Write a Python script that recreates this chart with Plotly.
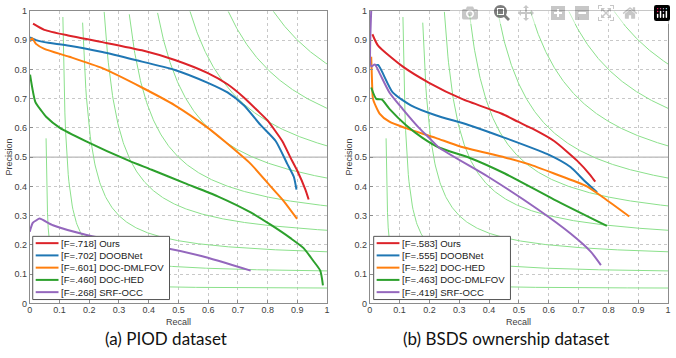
import numpy as np
import plotly.graph_objects as go

# PIOD dataset (left panel)
piod_names = ["[F=.718] Ours", "[F=.702] DOOBNet", "[F=.601] DOC-DMLFOV",
              "[F=.460] DOC-HED", "[F=.268] SRF-OCC"]
piod_recall = [
    [0.011, 0.049, 0.133, 0.244, 0.377, 0.488, 0.599, 0.665, 0.72, 0.765, 0.798, 0.849, 0.876, 0.899, 0.927, 0.938],
    [0.001, 0.021, 0.049, 0.133, 0.244, 0.355, 0.488, 0.599, 0.665, 0.72, 0.776, 0.827, 0.866, 0.888, 0.897],
    [0.001, 0.008, 0.021, 0.049, 0.133, 0.244, 0.377, 0.488, 0.599, 0.654, 0.743, 0.81, 0.854, 0.899],
    [0.001, 0.019, 0.038, 0.055, 0.1, 0.188, 0.333, 0.41, 0.521, 0.632, 0.743, 0.81, 0.877, 0.921, 0.954, 0.977, 0.986],
    [0.0, 0.01, 0.022, 0.033, 0.078, 0.188, 0.3, 0.443, 0.577, 0.743],
]
piod_precision = [
    [0.956, 0.935, 0.915, 0.893, 0.865, 0.832, 0.787, 0.749, 0.704, 0.66, 0.627, 0.555, 0.5, 0.455, 0.389, 0.355],
    [0.909, 0.9, 0.893, 0.881, 0.859, 0.832, 0.798, 0.754, 0.721, 0.677, 0.61, 0.555, 0.477, 0.433, 0.389],
    [0.895, 0.906, 0.887, 0.87, 0.843, 0.804, 0.738, 0.677, 0.6, 0.555, 0.477, 0.4, 0.35, 0.289],
    [0.782, 0.688, 0.66, 0.638, 0.601, 0.555, 0.488, 0.457, 0.411, 0.366, 0.311, 0.269, 0.223, 0.189, 0.145, 0.112, 0.062],
    [0.245, 0.275, 0.284, 0.29, 0.267, 0.235, 0.213, 0.192, 0.162, 0.112],
]

# BSDS ownership dataset (right panel)
bsds_names = ["[F=.583] Ours", "[F=.555] DOOBNet", "[F=.522] DOC-HED",
              "[F=.463] DOC-DMLFOV", "[F=.419] SRF-OCC"]
bsds_recall = [
    [0.009, 0.028, 0.11, 0.199, 0.309, 0.441, 0.497, 0.544, 0.618, 0.695, 0.74, 0.756],
    [0.017, 0.028, 0.077, 0.138, 0.221, 0.331, 0.453, 0.596, 0.673, 0.717, 0.762],
    [0.005, 0.008, 0.011, 0.033, 0.066, 0.121, 0.221, 0.301, 0.453, 0.533, 0.618, 0.728, 0.784, 0.87],
    [0.005, 0.022, 0.04, 0.066, 0.121, 0.177, 0.232, 0.334, 0.453, 0.618, 0.795],
    [0.005, 0.005, 0.017, 0.033, 0.066, 0.11, 0.166, 0.199, 0.232, 0.397, 0.563, 0.673, 0.74, 0.775],
]
bsds_precision = [
    [0.92, 0.881, 0.81, 0.754, 0.699, 0.649, 0.621, 0.598, 0.555, 0.488, 0.438, 0.416],
    [0.813, 0.815, 0.721, 0.677, 0.643, 0.61, 0.566, 0.51, 0.466, 0.422, 0.38],
    [0.843, 0.75, 0.699, 0.649, 0.621, 0.599, 0.566, 0.537, 0.499, 0.476, 0.444, 0.4, 0.361, 0.297],
    [0.738, 0.699, 0.697, 0.665, 0.61, 0.566, 0.533, 0.498, 0.444, 0.355, 0.265],
    [1.0, 0.81, 0.817, 0.787, 0.721, 0.665, 0.599, 0.566, 0.533, 0.433, 0.322, 0.239, 0.178, 0.131],
]

colors = ["#dc2329", "#1f77b4", "#ff7f0e", "#2ca02c", "#9467bd"]
iso_f = [0.1, 0.2, 0.3, 0.4, 0.5, 0.6, 0.7, 0.8, 0.9]
ticks = [0, 0.1, 0.2, 0.3, 0.4, 0.5, 0.6, 0.7, 0.8, 0.9, 1]
tick_text = ["0", "0.1", "0.2", "0.3", "0.4", "0.5", "0.6", "0.7", "0.8", "0.9", "1"]

W, H = 676, 358
fig = go.Figure()

panels = [
    ("x", "y", piod_names, piod_recall, piod_precision, 27, 327, 30, 164, "(a) PIOD dataset"),
    ("x2", "y2", bsds_names, bsds_recall, bsds_precision, 370, 671, 374, 508, "(b) BSDS ownership dataset"),
]

for xa, ya, names, rec, prec, x0, x1, lx, tx, title in panels:
    # iso-F contours
    for f in iso_f:
        r = np.linspace(f / 2 + 1e-4, 1, 400)
        p = f * r / (2 * r - f)
        keep = p <= 1.0
        fig.add_trace(go.Scatter(x=r[keep], y=p[keep], xaxis=xa, yaxis=ya, mode="lines",
                                 line=dict(color="#8be08b", width=1), showlegend=False,
                                 hoverinfo="skip"))
    for name, r, p, c in zip(names, rec, prec, colors):
        fig.add_trace(go.Scatter(x=r, y=p, xaxis=xa, yaxis=ya, mode="lines", name=name,
                                 line=dict(color=c, width=2, shape="spline", smoothing=0.6),
                                 showlegend=False))

    # legend box drawn by hand so it stays compact
    fig.add_shape(type="rect", xref="paper", yref="paper",
                  x0=lx / W, x1=(lx + 138) / W, y0=1 - 303 / H, y1=1 - 238 / H,
                  fillcolor="white", line=dict(color="#555", width=1), layer="above")
    for i, (name, c) in enumerate(zip(names, colors)):
        yc = 1 - (245 + 12.6 * i) / H
        fig.add_shape(type="line", xref="paper", yref="paper",
                      x0=(lx + 3) / W, x1=(lx + 26) / W, y0=yc, y1=yc,
                      line=dict(color=c, width=2), layer="above")
        fig.add_annotation(x=(lx + 27) / W, y=yc, xref="paper", yref="paper", text=name,
                           xanchor="left", yanchor="middle", showarrow=False,
                           font=dict(family="Liberation Sans", size=9.6, color="#222"))

    fig.add_annotation(x=tx / W, y=1 - 343 / H, xref="paper", yref="paper",
                       text=title, xanchor="center", yanchor="middle", showarrow=False,
                       font=dict(family="Lato", size=17, color="#111"))
    fig.add_annotation(x=(x0 + x1) / 2 / W, y=1 - 326 / H, xref="paper", yref="paper",
                       text="Recall", xanchor="center", yanchor="middle", showarrow=False,
                       font=dict(family="Liberation Sans", size=9, color="#404040"))
    fig.add_annotation(x=(x0 - 21) / W, y=1 - 156 / H, xref="paper", yref="paper",
                       text="Precision", textangle=-90, xanchor="center", yanchor="middle",
                       showarrow=False, font=dict(family="Liberation Sans", size=9, color="#404040"))

axis_common = dict(range=[0, 1], tickvals=ticks, ticktext=tick_text, showgrid=True,
                   gridcolor="#c8c8c8", griddash="dot", gridwidth=1, zeroline=False,
                   showline=True, linecolor="#8c8c8c", linewidth=1, mirror=True,
                   ticks="inside", ticklen=3, tickcolor="#8c8c8c",
                   tickfont=dict(family="Liberation Sans", size=9, color="#404040"))

ytop, ybot = 1 - 6 / H, 1 - 307 / H
fig.update_layout(
    width=W, height=H, margin=dict(l=0, r=0, t=0, b=0),
    paper_bgcolor="white", plot_bgcolor="white", showlegend=False,
    xaxis=dict(domain=[27 / W, 327 / W], anchor="y", ticklabelstandoff=-2, **axis_common),
    yaxis=dict(domain=[ybot, ytop], anchor="x", **axis_common),
    xaxis2=dict(domain=[370 / W, 671 / W], anchor="y2", ticklabelstandoff=-2,
                ticklabeloverflow="allow", **axis_common),
    yaxis2=dict(domain=[ybot, ytop], anchor="x2", **axis_common),
)

# solid line at precision 0.5
for xa, ya in [("x", "y"), ("x2", "y2")]:
    fig.add_shape(type="line", xref=xa, yref=ya, x0=0, x1=1, y0=0.5, y1=0.5,
                  line=dict(color="#a0a0a0", width=1), layer="below")

# drop the browser's default page margin so the figure fills the window
fig.write_html("out.html", post_script="document.body.style.margin='0px';")
